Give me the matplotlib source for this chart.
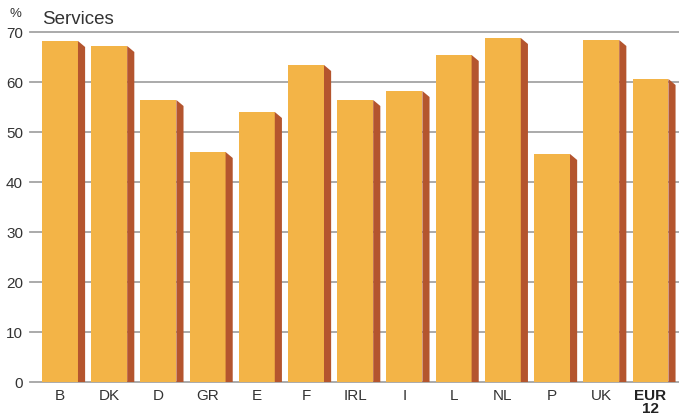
import matplotlib
matplotlib.use("Agg")
import matplotlib.pyplot as plt
import numpy as np

categories = ["B", "DK", "D", "GR", "E", "F", "IRL", "I", "L", "NL", "P", "UK", "EUR\n12"]
values = [68.2, 67.2, 56.4, 46.0, 54.0, 63.4, 56.4, 58.2, 65.4, 68.8, 45.6, 68.4, 60.6]
yticks = [0, 10, 20, 30, 40, 50, 60, 70]

plt.rcParams['font.family'] = ['Liberation Sans', 'DejaVu Sans']

fig = plt.figure(figsize=6.79 * np.array([1, 417 / 679]), dpi=100)
ax = fig.add_axes([30 / 679, 1 - 382 / 417, 1 - 30 / 679, (382 - 32) / 417])

front_col = "#F3B447"
side_col = "#B4552E"
w = 0.73
s = 0.145
d = 1.2

x = np.arange(len(categories))
ax.bar(x, values, width=w, color=front_col, edgecolor="none", zorder=3)
for xi, v in zip(x, values):
    xr = xi + w / 2
    ax.fill([xr, xr + s, xr + s, xr], [v, v - d, 0, 0], color=side_col, lw=0, zorder=3)

ax.set_xlim(-0.61, 12.58)
ax.set_ylim(0, 70)
ax.set_yticks(yticks)
ax.set_yticklabels([str(t) for t in yticks], fontsize=11, color="#333333")
for yt in yticks:
    ax.axhline(yt, color="#a4a4a4", lw=1.3, zorder=1, clip_on=False)
ax.tick_params(axis="y", length=0, pad=5)
ax.set_xticks(x)
labels = ax.set_xticklabels(categories, fontsize=11, color="#333333", linespacing=0.95)
labels[-1].set_fontweight("bold")
labels[-1].set_color("#222222")
ax.tick_params(axis="x", length=0, pad=5)
for sp in ax.spines.values():
    sp.set_visible(False)

fig.text(42 / 679, 1 - 19 / 417, "Services", fontsize=13.5, color="#333333", va="center", ha="left")
fig.text(9 / 679, 1 - 14 / 417, "%", fontsize=9.5, color="#333333", va="center", ha="left")

fig.savefig("out.png", dpi=100)
